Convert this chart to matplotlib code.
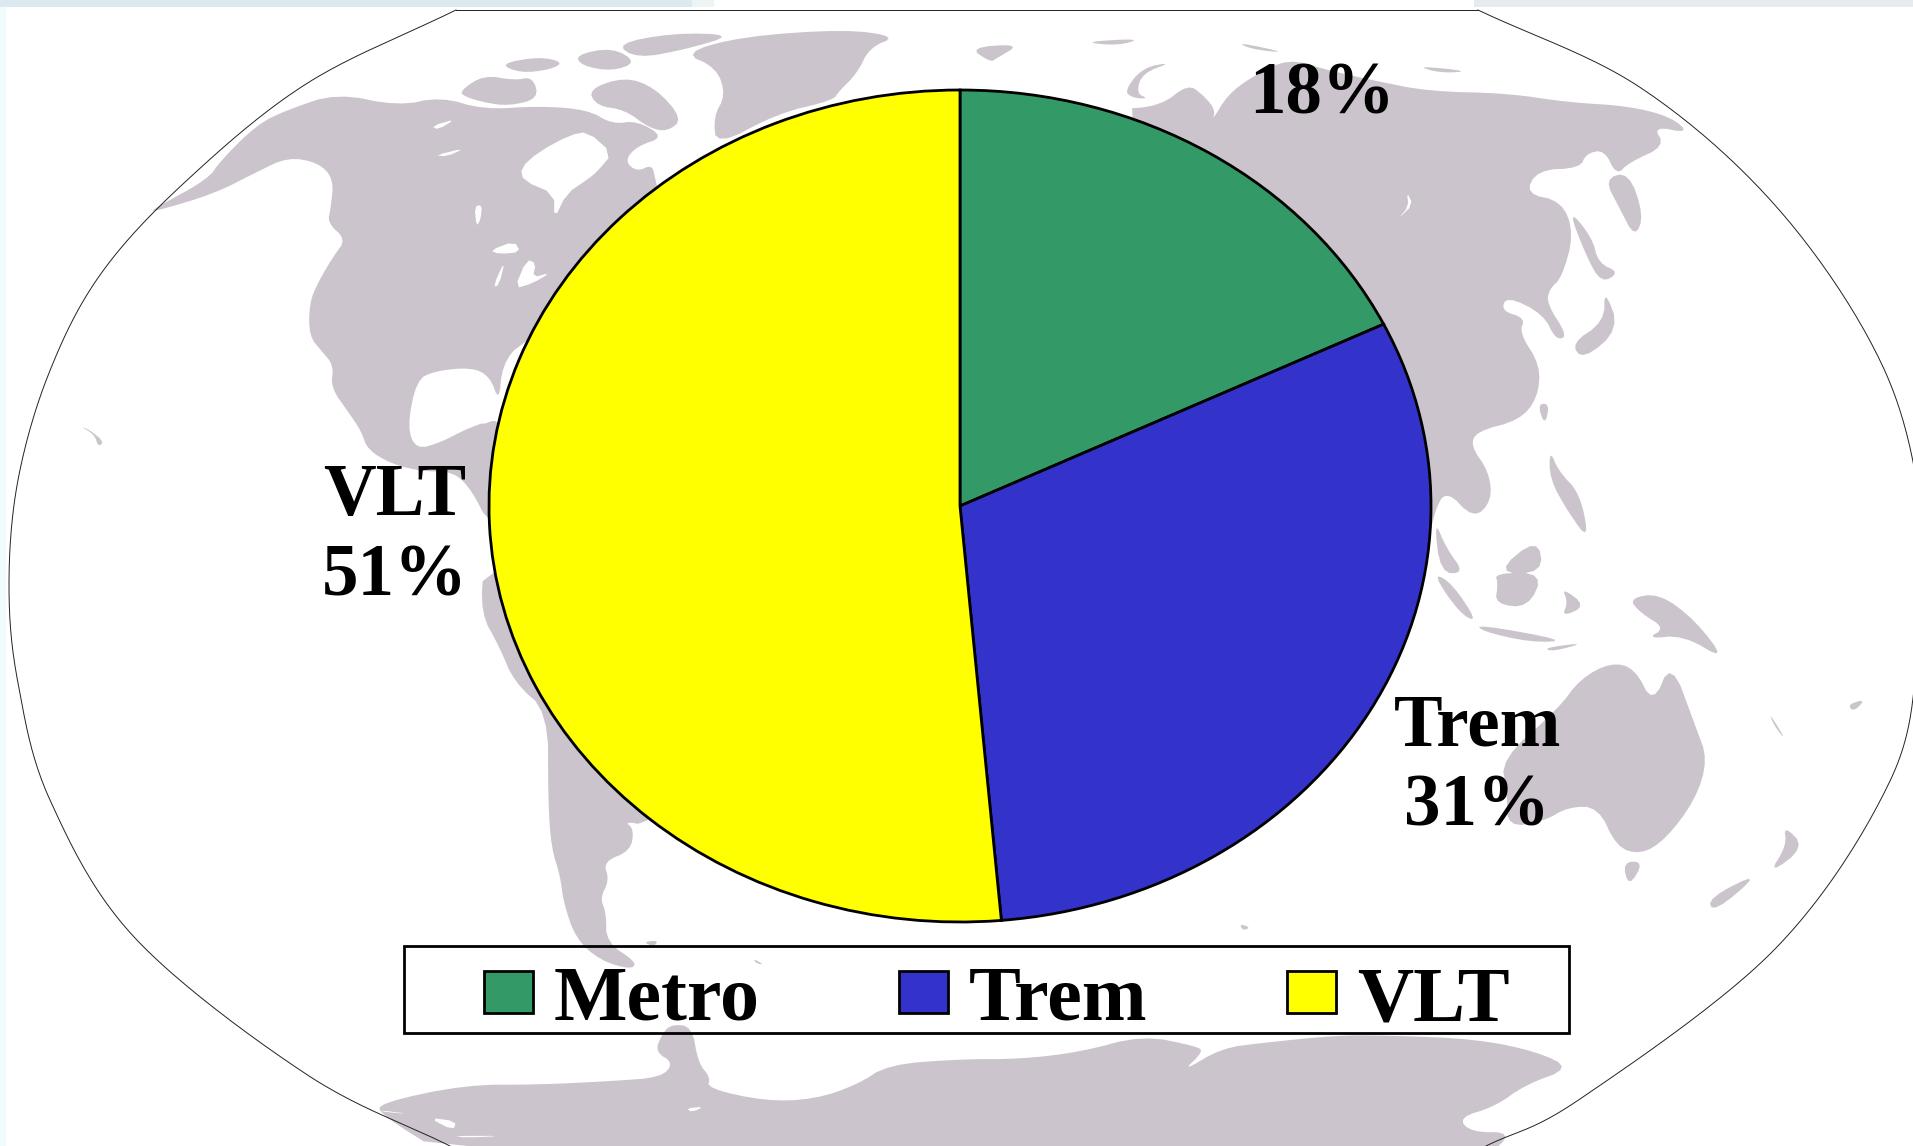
import matplotlib
matplotlib.use("Agg")
import matplotlib.pyplot as plt
import numpy as np
from matplotlib.patches import Polygon, Rectangle

# ---- chart data ----
categories = ["Metro", "Trem", "VLT"]
shares = [17.8, 30.8, 51.4]
share_labels = ["18%", "31%", "51%"]
colors = ["#339966", "#3333CC", "#FFFF00"]

W, H = 1913, 1146
LAND = "#CCC4CC"
FONT = "Liberation Serif"

# ---- helpers turning sketch coordinates of the background map into pixels ----
def q1(p): return [(x / 1.633, y / 2.736) for x, y in p]
def q2(p): return [(960 + x / 1.645, y / 2.736) for x, y in p]
def q3(p): return [(x / 1.633, 573 + y / 2.736) for x, y in p]
def q4(p): return [(960 + x / 1.645, 573 + y / 2.736) for x, y in p]

def rounded(poly, passes=2):
    """Round polygon corners (decorative map only)."""
    p = np.asarray(poly, float)
    for _ in range(passes):
        n = np.roll(p, -1, axis=0)
        p = np.column_stack([0.75 * p + 0.25 * n, 0.25 * p + 0.75 * n]).reshape(-1, 2)
    return p

def spline(points, n=24):
    """Catmull-Rom curve through the map border points."""
    p = np.asarray(points, float)
    p = np.vstack([2 * p[0] - p[1], p, 2 * p[-1] - p[-2]])
    out = []
    for i in range(1, len(p) - 2):
        for t in np.linspace(0, 1, n, endpoint=False):
            out.append(0.5 * ((2 * p[i]) + (p[i + 1] - p[i - 1]) * t
                              + (2 * p[i - 1] - 5 * p[i] + 4 * p[i + 1] - p[i + 2]) * t ** 2
                              + (3 * p[i] - p[i - 1] - 3 * p[i + 1] + p[i + 2]) * t ** 3))
    out.append(p[-2])
    return np.array(out)

border_top = [(456, 10), (1478, 10)]
border_left = [(456,10),(306,84),(184,183),(100,275),(49,373),(18,480),(9,585),(18,683),(50,800),(135,938),
               (306,1074),(450,1146)]
border_right = [(1478,10),(1641,88),(1781,212),(1884,369),(1922,520),(1918,650),(1890,781),(1775,949),
                (1580,1099),(1486,1146)]

land = [
    # North America
    q1([(250,572),(340,490),(360,440),(420,340),(470,300),(550,255),(650,290),(720,265),(790,300),(880,290),
        (960,300),(1000,340),(1040,330),(1085,375),(1040,400),(1020,440),(1040,470),(1065,450),(1070,490),(1100,700),
        (850,935),(820,1000),(815,1100),(800,1030),(770,1005),(710,1015),(680,1040),(665,1170),(680,1230),(720,1210),
        (760,1175),(800,1150),(900,1200),(900,1480),(800,1440),(770,1340),(740,1290),(690,1290),(640,1270),(600,1230),
        (590,1180),(570,1130),(540,1060),(545,1000),(525,960),(505,920),(505,830),(520,770),(545,700),(565,655),(535,610),
        (540,570),(545,490),(520,445),(470,430),(420,470),(350,530),(250,580)]),
    q1([(750,250),(790,205),(840,220),(870,210),(880,270),(830,290),(790,280),(760,265)]),
    q1([(815,175),(880,155),(920,170),(900,190),(850,200)]),
    q1([(940,150),(1000,130),(1040,170),(1000,195),(950,180)]),
    q1([(1005,120),(1100,90),(1200,95),(1120,135),(1040,160)]),
    q1([(960,245),(1020,210),(1070,240),(1115,325),(1090,360),(1060,350),(1020,300),(975,290)]),
    # Greenland
    q1([(1115,145),(1210,100),(1380,80),(1465,100),(1420,130),(1400,200),(1370,250),(1360,275),(1270,310),(1170,400),
        (1165,320),(1185,260),(1170,185)]),
    q1([(780,1170),(810,1145),(815,1175),(790,1175)]),
    q1([(130,1165),(150,1180),(170,1210),(160,1222),(155,1190)]),
    # South America
    q3([(790,-30),(785,110),(815,200),(840,300),(895,380),(895,620),(900,750),(915,830),(920,900),(940,1000),(980,1060),
        (1030,1085),(1040,1065),(990,1010),(990,930),(980,890),(995,840),(985,790),(1030,760),(1035,700),(1020,680),
        (1055,690),(1200,500),(1100,-30)]),
    q3([(1050,1010),(1075,1005),(1068,1022)]),
    q3([(1230,1055),(1248,1072),(1235,1068)]),
    # Antarctica
    q3([(620,1450),(760,1400),(880,1400),(1000,1390),(1080,1380),(1100,1340),(1070,1310),(1080,1265),(1095,1235),(1130,1240),(1140,1340),
        (1160,1380),(1155,1410),(1250,1445),(1330,1440),(1400,1400),(1450,1345),(1568,1330)]) +
    q4([(100,1330),(200,1310),(300,1265),(390,1295),(400,1310),(365,1365),(430,1300),(500,1285),(620,1265),(700,1265),
        (850,1275),(950,1310),(1005,1355),(930,1400),(880,1460),(820,1490),(840,1530),(910,1530),(865,1600)]) +
    q3([(735,1600),(620,1480)]),
    # Eurasia
    q2([(255,300),(330,290),(375,230),(400,260),(420,300),(415,330),(440,260),(480,210),(540,160),(600,190),(680,220),
        (770,250),(900,255),(1000,280),(1100,290),(1170,320),(1200,365),(1140,345),(1160,400),(1100,445),(1080,480),
        (1060,410),(1030,420),(1020,460),(950,465),(930,530),(990,550),(1010,640),(990,760),(970,790),(965,830),(1000,920),
        (980,930),(960,860),(900,810),(890,850),(930,870),(920,910),(955,1000),(950,1090),(920,1150),(850,1180),(840,1220),
        (870,1290),(875,1370),(845,1420),(800,1340),(780,1400),(770,1500),(500,1100)]),
    q2([(15,130),(100,120),(60,160),(50,170)]),
    q2([(200,115),(300,105),(260,125)]),
    q2([(455,115),(540,145),(480,135)]),
    q2([(750,180),(840,195),(790,200)]),
    q2([(270,250),(300,185),(350,170),(300,200),(290,255),(310,270),(285,268)]),
    q2([(1060,490),(1100,470),(1125,590),(1110,650),(1085,570)]),
    q2([(1000,570),(1040,650),(1050,720),(1085,745),(1055,775),(1030,700)]),
    q2([(1060,790),(1085,900),(1025,985),(1005,940),(1060,880)]),
    q2([(950,1105),(970,1105),(962,1165)]),
    q2([(970,1230),(985,1290),(1020,1350),(1035,1480),(1000,1400),(970,1310)]),
    q2([(780,1420),(800,1500),(830,1568),(790,1568)]),
    q2([(880,1568),(950,1470),(960,1568)]),
    # South-East Asia
    q4([(780,0),(810,30),(850,130),(830,120),(800,60)]),
    q4([(880,0),(960,0),(935,95),(880,85),(885,30)]),
    q4([(850,140),(1000,185),(940,190),(860,160)]),
    q4([(990,40),(1030,90),(990,120),(1000,80)]),
    q4([(1030,190),(960,205),(975,215)]),
    q4([(1100,70),(1150,55),(1210,130),(1260,240),(1190,170),(1130,180),(1160,150),(1120,110)]),
    # Australia and islands
    q4([(890,510),(985,370),(1020,290),(1070,245),(1110,260),(1140,360),(1170,240),(1210,420),(1230,510),(1210,620),
        (1160,730),(1120,770),(1080,750),(1050,640),(1000,640),(960,680),(900,695),(900,600)]),
    q4([(1090,790),(1125,790),(1100,860)]),
    q4([(1355,690),(1390,750),(1330,825),(1360,745)]),
    q4([(1320,815),(1240,930),(1230,890)]),
    q4([(1460,360),(1490,345),(1470,380)]),
    q4([(1330,380),(1360,460),(1340,420)]),
    q4([(460,960),(478,970),(465,978)]),
]

water = [
    q1([(850,460),(880,415),(930,370),(960,360),(1000,420),(975,470),(960,490),(925,530),(905,600),(905,530),(855,495)]),
    q1([(705,345),(745,325),(715,355)]),
    q1([(710,425),(760,405),(730,428)]),
    q1([(775,565),(787,560),(785,600),(778,620)]),
    q1([(800,685),(840,660),(850,690),(815,695)]),
    q1([(805,785),(825,710),(815,780)]),
    q1([(840,790),(860,710),(875,720),(870,760),(900,745),(870,775)]),
    q1([(1030,420),(1050,430),(1040,470)]),
    q2([(735,525),(745,560),(720,600),(738,565)]),
    q3([(620,1470),(670,1480),(630,1475)]),
    q3([(700,1490),(745,1500),(740,1525)]),
    q3([(740,1540),(825,1540),(760,1545)]),
    q3([(1120,1465),(1150,1460),(1130,1475)]),
]

fig = plt.figure(figsize=(W / 100, H / 100), dpi=100, facecolor="white")

# ---- pixel-space background ----
bg = fig.add_axes([0, 0, 1, 1])
bg.set_xlim(0, W)
bg.set_ylim(H, 0)
bg.axis("off")
bg.add_patch(Rectangle((0, 0), 6, H, fc="#F2FBFB", ec="none"))
bg.add_patch(Rectangle((0, 0), 692, 7, fc="#DDE9F0", ec="none"))
bg.add_patch(Rectangle((692, 0), 22, 7, fc="#EEF3F6", ec="none"))
bg.add_patch(Rectangle((1474, 0), W - 1474, 7, fc="#E6EBEE", ec="none"))

for poly in land:
    bg.add_patch(Polygon(rounded(poly), closed=True, fc=LAND, ec="none", zorder=2))
for poly in water:
    bg.add_patch(Polygon(rounded(poly, 1), closed=True, fc="white", ec="none", zorder=3))
for curve in (spline(border_left), spline(border_right), np.array(border_top)):
    bg.plot(curve[:, 0], curve[:, 1], color="#222222", lw=0.7, zorder=4)

# ---- pie ----
left, right, top, bottom = 489, 1431, 90, 922
ax = fig.add_axes([left / W, 1 - bottom / H, (right - left) / W, (bottom - top) / H])
wedges, _ = ax.pie(shares, colors=colors, startangle=90, counterclock=False, radius=1,
                   wedgeprops=dict(edgecolor="black", linewidth=2.0))
ax.set_aspect("auto")
ax.set_xlim(-1, 1)
ax.set_ylim(-1, 1)
for w in wedges:
    w.set_clip_on(False)
ax.patch.set_alpha(0)

# ---- data labels ----
tk = dict(family=FONT, weight="bold", fontsize=52.5, color="black", ha="center", va="baseline", zorder=10)
bg.text(395, 515, categories[2], **tk)
bg.text(395, 595, share_labels[2], **tk)
bg.text(1322, 113, share_labels[0], **tk)
bg.text(1478, 746, categories[1], **tk)
bg.text(1477, 826, share_labels[1], **tk)

# ---- legend ----
ov = fig.add_axes([0, 0, 1, 1])
ov.set_xlim(0, W)
ov.set_ylim(H, 0)
ov.axis("off")
ov.patch.set_alpha(0)
ov.add_patch(Rectangle((404, 946), 1165, 87, fc="none", ec="black", lw=2.0, zorder=1))
fs = 56
px = fs * 100 / 72
leg = ov.legend(wedges, categories, ncol=3, frameon=False, loc="lower left",
                bbox_to_anchor=(484, 1037), bbox_transform=ov.transData,
                borderpad=0, borderaxespad=0,
                prop=dict(family=FONT, weight="bold", size=fs),
                handlelength=49 / px, handleheight=0.45, handletextpad=21 / px, columnspacing=139 / px)
leg.set_zorder(5)

fig.savefig("out.png", dpi=100)
